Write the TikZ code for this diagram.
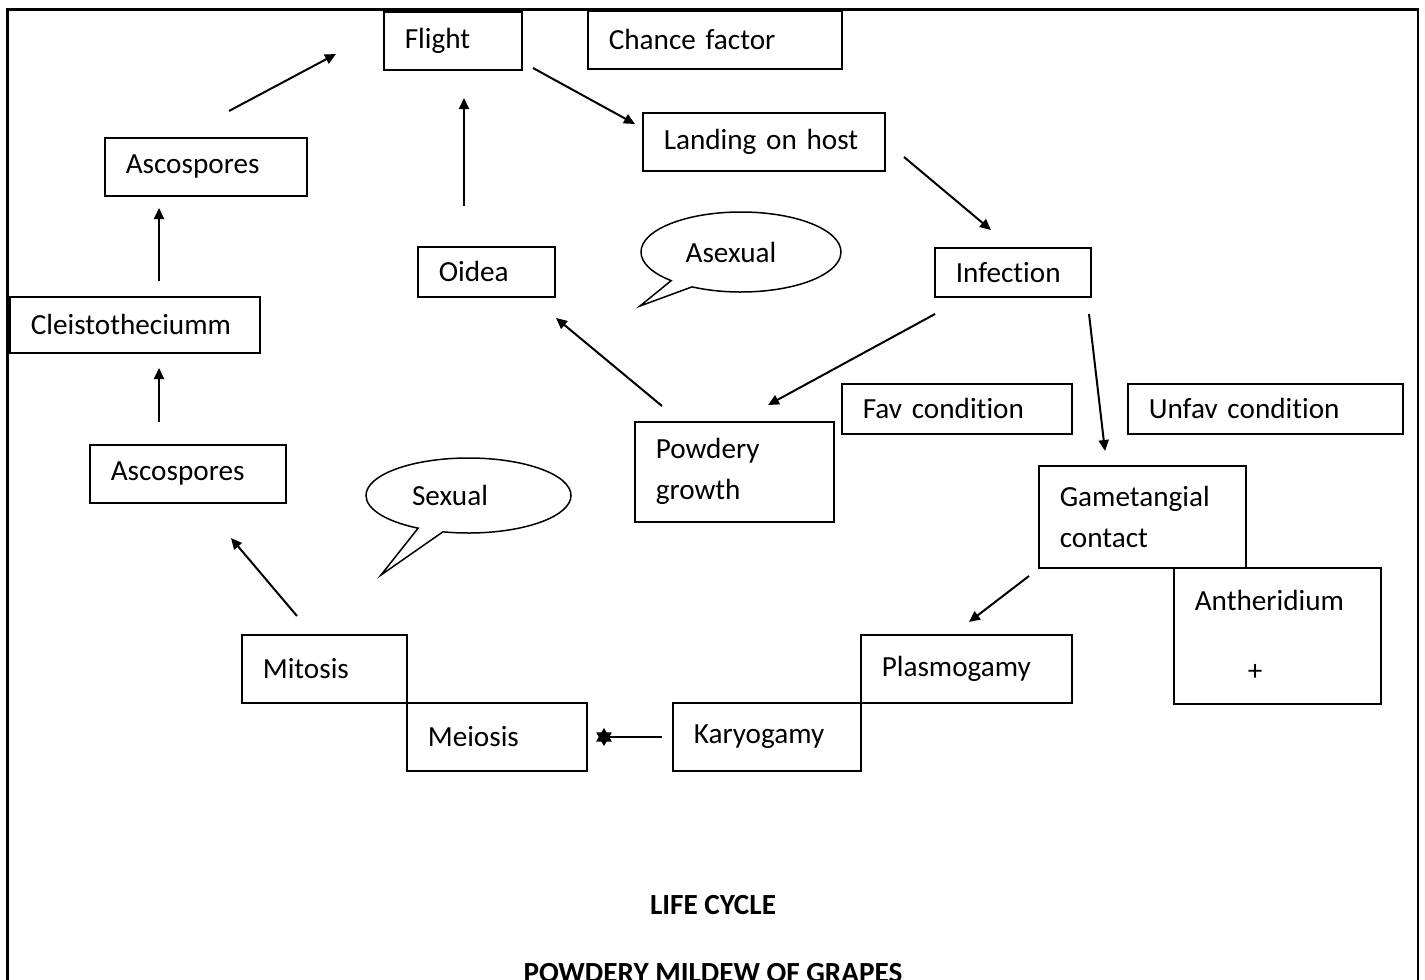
\documentclass[tikz,border=0pt]{standalone}
\usepackage{fontspec}
\setmainfont{Carlito}[Ligatures=NoCommon]
\usetikzlibrary{arrows.meta,shapes.callouts,shapes.geometric}
\begin{document}
\begin{tikzpicture}[x=0.5pt,y=-0.5pt,
  every node/.style={font=\fontsize{14.6pt}{20.5pt}\selectfont},
  box/.style={draw, line width=0.8pt, anchor=north west, inner xsep=10.5pt, inner ysep=0pt, align=left},
  link/.style={line width=1pt, -{Triangle[length=5.5pt,width=5pt]}},
  bubble/.style={ellipse callout, draw, line width=0.75pt, inner sep=0pt},
  heading/.style={font=\fontsize{14.6pt}{20.5pt}\selectfont\bfseries},
  startip/.style={star, star points=6, star point ratio=1.7, fill, inner sep=0pt, minimum size=9pt}
]
\useasboundingbox (0,0) rectangle (1425,980);
\clip (0,0) rectangle (1425,980);

% page frame, open below
\draw[line width=1.3pt] (7.5,1000) -- (7.5,9.5) -- (1418,9.5) -- (1418,1000);

% stages of the cycle
\node[box, text width=48pt,   minimum height=29pt] (flight)  at (383,11)  {Flight};
\node[box, text width=106pt,  minimum height=29pt] (chance)  at (587,10)  {Chance factor};
\node[box, text width=100pt,  minimum height=29pt] (landing) at (642,112) {Landing on host};
\node[box, text width=80pt,   minimum height=29pt] (ascoA)   at (104,137) {Ascospores};
\node[box, text width=47.5pt, minimum height=25pt] (oidea)   at (417,246) {Oidea};
\node[box, text width=57pt,   minimum height=24.5pt] (infect) at (934,247) {Infection};
\node[box, text width=104pt,  minimum height=28pt] (cleisto) at (9,296)   {Cleistotheciumm};
\node[box, text width=94pt,   minimum height=25pt] (fav)     at (841,383) {Fav condition};
\node[box, text width=116.5pt,minimum height=25pt] (unfav)   at (1127,383) {Unfav condition};
\node[box, text width=78.5pt, minimum height=50pt] (powdery) at (634,421) {Powdery\\growth};
\node[box, text width=77pt,   minimum height=29pt] (ascoB)   at (89,444)  {Ascospores};
\node[box, text width=82.5pt, minimum height=51pt] (gamet)   at (1038,465) {Gametangial\\contact};
\node[box, text width=82.5pt, minimum height=68pt] (anther)  at (1173,567) {Antheridium\\[14.5pt]\hspace*{26.5pt}+};
\node[box, text width=61.5pt, minimum height=34pt] (mitosis) at (241,634) {Mitosis};
\node[box, text width=69pt,   minimum height=34pt] (meiosis) at (406,702) {Meiosis};
\node[box, text width=84.5pt, minimum height=34pt] (plasmo)  at (860,634) {Plasmogamy};
\node[box, text width=73pt,   minimum height=34pt] (karyo)   at (672,702) {Karyogamy};

% speech bubbles
\node[bubble, minimum width=100pt, minimum height=40pt, callout absolute pointer={(640,306)}] (asexual) at (741,252) {\hspace*{-10pt}Asexual};
\node[bubble, minimum width=102.5pt, minimum height=37.5pt, callout absolute pointer={(381,575)}] (sexual) at (468.5,495.5) {\hspace*{-18.5pt}Sexual};

% arrow ends
\coordinate (ascoA-out)   at (229,111);  \coordinate (flight-inA)  at (336,54);
\coordinate (oidea-out)   at (464,206);  \coordinate (flight-inB)  at (464,98);
\coordinate (flight-out)  at (533,68);   \coordinate (landing-in)  at (635,124);
\coordinate (landing-out) at (904,157);  \coordinate (infect-in)   at (991,230);
\coordinate (infect-outA) at (935,314);  \coordinate (powdery-in)  at (768,405);
\coordinate (infect-outB) at (1089,314); \coordinate (gamet-in)    at (1105,451);
\coordinate (powdery-out) at (662,406);  \coordinate (oidea-in)    at (556,318);
\coordinate (cleisto-out) at (159,281);  \coordinate (ascoA-in)    at (159,208);
\coordinate (ascoB-out)   at (159,422);  \coordinate (cleisto-in)  at (159,368);
\coordinate (mitosis-out) at (297,616);  \coordinate (ascoB-in)    at (231,538);
\coordinate (gamet-out)   at (1029,576); \coordinate (plasmo-in)   at (969,622);
\coordinate (karyo-out)   at (662,737);

% connectors
\draw[link] (ascoA-out) -- (flight-inA);
\draw[link] (oidea-out) -- (flight-inB);
\draw[link] (flight-out) -- (landing-in);
\draw[link] (landing-out) -- (infect-in);
\draw[link] (infect-outA) -- (powdery-in);
\draw[link] (infect-outB) -- (gamet-in);
\draw[link] (powdery-out) -- (oidea-in);
\draw[link] (cleisto-out) -- (ascoA-in);
\draw[link] (ascoB-out) -- (cleisto-in);
\draw[link] (mitosis-out) -- (ascoB-in);
\draw[link] (gamet-out) -- (plasmo-in);
\node[startip] (meiosis-in) at (604,737) {};
\draw[line width=1pt] (karyo-out) -- (meiosis-in.center);

% titles
\node[heading] (lifecycle) at (713,905) {LIFE CYCLE};
\node[heading, anchor=base] (disease) at (713,982) {POWDERY MILDEW OF GRAPES};
\end{tikzpicture}
\end{document}
